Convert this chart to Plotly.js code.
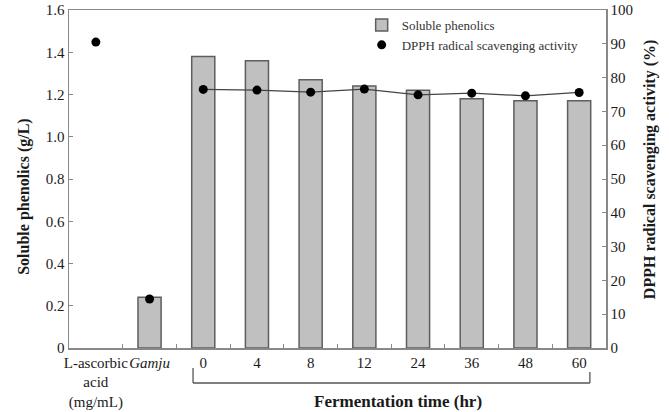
<!DOCTYPE html>
<html>
<head>
<meta charset="utf-8">
<script src="https://cdn.plot.ly/plotly-3.0.1.min.js"></script>
<style>html,body{margin:0;padding:0;background:#fff;}#chart{width:669px;height:412px;}</style>
</head>
<body>
<div id="chart"></div>
<script>
// Data
const categories = ["L-ascorbic acid", "Gamju", "0", "4", "8", "12", "24", "36", "48", "60"];
const tickLabels = ["L-ascorbic<br>acid<br>(mg/mL)", "<i>Gamju</i>", "0", "4", "8", "12", "24", "36", "48", "60"];
const solublePhenolics = [null, 0.24, 1.38, 1.36, 1.27, 1.24, 1.22, 1.18, 1.17, 1.17];
const dpphActivity = [90.5, 14.5, 76.5, 76.3, 75.7, 76.6, 74.9, 75.4, 74.6, 75.6];
const fermentationCats = categories.slice(2);
const fermentationDpph = dpphActivity.slice(2);

const serif = "Liberation Serif, Times New Roman, serif";
const tickFont = {family: serif, size: 15, color: "#1a1a1a"};

const traces = [
  {
    type: "bar", name: "Soluble phenolics",
    x: categories, y: solublePhenolics, width: 0.43,
    marker: {color: "#c0c0c0", line: {color: "#5e5e5e", width: 1.5}},
    xaxis: "x", yaxis: "y"
  },
  {
    type: "scatter", mode: "lines", showlegend: false, hoverinfo: "skip",
    x: fermentationCats, y: fermentationDpph,
    line: {color: "#444", width: 1.3},
    xaxis: "x", yaxis: "y2"
  },
  {
    type: "scatter", mode: "markers", name: "DPPH radical scavenging activity",
    x: categories, y: dpphActivity,
    marker: {color: "#000", size: 9},
    xaxis: "x", yaxis: "y2"
  }
];

const axisLine = "#888";
const layout = {
  width: 669, height: 412,
  margin: {l: 69, r: 63, t: 10, b: 64, autoexpand: false},
  paper_bgcolor: "#fff", plot_bgcolor: "#fff",
  font: {family: serif, size: 15, color: "#1a1a1a"},
  showlegend: true,
  legend: {
    x: 0.545, y: 1.0, xanchor: "left", yanchor: "top",
    bgcolor: "rgba(0,0,0,0)", font: {family: serif, size: 13, color: "#333"},
    tracegroupgap: 0
  },
  xaxis: {
    type: "category", categoryorder: "array", categoryarray: categories,
    tickvals: categories, ticktext: tickLabels, tickangle: 0, automargin: false,
    tickson: "boundaries", ticks: "inside", ticklen: 4, tickcolor: axisLine,
    showline: true, linecolor: axisLine, linewidth: 1.5, mirror: true,
    showgrid: false, zeroline: false, range: [-0.5, 9.5],
    tickfont: tickFont
  },
  yaxis: {
    range: [0, 1.6], tickvals: [0, 0.2, 0.4, 0.6, 0.8, 1.0, 1.2, 1.4, 1.6],
    ticktext: ["0", "0.2", "0.4", "0.6", "0.8", "1.0", "1.2", "1.4", "1.6"],
    ticks: "inside", ticklen: 4, tickcolor: axisLine, automargin: false,
    showline: true, linecolor: axisLine, linewidth: 1.5,
    showgrid: false, zeroline: false,
    tickfont: tickFont
  },
  yaxis2: {
    overlaying: "y", side: "right", range: [0, 100], dtick: 10,
    ticks: "inside", ticklen: 4, tickcolor: axisLine, automargin: false,
    showline: true, linecolor: axisLine, linewidth: 1.5,
    showgrid: false, zeroline: false,
    tickfont: tickFont
  },
  shapes: [
    {type: "line", xref: "x", yref: "paper", x0: 1.81, x1: 1.81, y0: -0.059, y1: -0.1036, line: {color: "#555", width: 1.3}},
    {type: "line", xref: "x", yref: "paper", x0: 1.81, x1: 9.2, y0: -0.1036, y1: -0.1036, line: {color: "#555", width: 1.3}},
    {type: "line", xref: "x", yref: "paper", x0: 9.2, x1: 9.2, y0: -0.071, y1: -0.1036, line: {color: "#555", width: 1.3}}
  ],
  annotations: [
    {text: "<b>Soluble phenolics (g/L)</b>", textangle: -90, xref: "paper", yref: "paper",
     x: -0.084, y: 0.447, xanchor: "center", yanchor: "middle", showarrow: false,
     font: {family: serif, size: 16, color: "#1a1a1a"}},
    {text: "<b>DPPH radical scavenging activity (%)</b>", textangle: -90, xref: "paper", yref: "paper",
     x: 1.0825, y: 0.53, xanchor: "center", yanchor: "middle", showarrow: false,
     font: {family: serif, size: 16, color: "#1a1a1a"}},
    {text: "<b>Fermentation time (hr)</b>", xref: "paper", yref: "paper",
     x: 0.613, y: -0.159, xanchor: "center", yanchor: "middle", showarrow: false,
     font: {family: serif, size: 17, color: "#1a1a1a"}}
  ]
};

Plotly.newPlot("chart", traces, layout, {displayModeBar: false, staticPlot: true});
</script>
</body>
</html>
